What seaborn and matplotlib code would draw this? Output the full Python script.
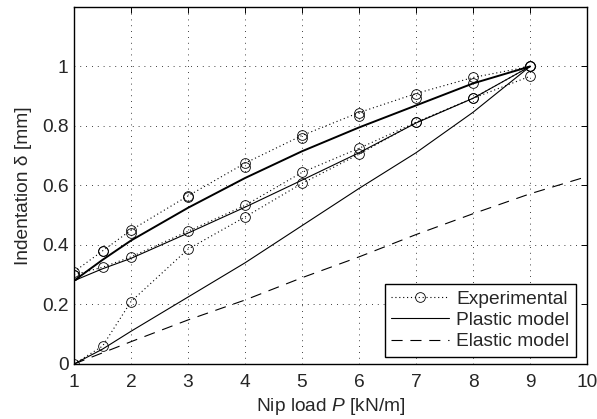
import matplotlib
matplotlib.use("Agg")
import matplotlib.pyplot as plt
import seaborn as sns
import pandas as pd
from matplotlib.lines import Line2D

# ---- data ----
load = [1, 1.5, 2, 3, 4, 5, 6, 7, 8, 9]
exp_1a = [0.31, 0.38, 0.45, 0.565, 0.675, 0.768, 0.845, 0.909, 0.963, 1.0]
exp_1b = [0.30, 0.38, 0.44, 0.56, 0.661, 0.758, 0.835, 0.893, 0.943, 1.0]
exp_2 = [0.30, 0.325, 0.36, 0.446, 0.533, 0.644, 0.725, 0.812, 0.893, 1.0]
exp_3 = [0.0, 0.06, 0.21, 0.386, 0.494, 0.607, 0.705, 0.812, 0.893, 0.967]

plastic_1 = [0.28, 0.35, 0.415, 0.525, 0.625, 0.715, 0.795, 0.869, 0.943, 1.0]
plastic_2 = [0.28, 0.32, 0.355, 0.44, 0.527, 0.618, 0.71, 0.81, 0.893, 1.0]
plastic_3 = [0.0, 0.05, 0.11, 0.225, 0.34, 0.465, 0.59, 0.71, 0.846, 1.0]

elastic_load = [1, 2, 3, 4, 5, 6, 7, 8, 9, 10]
elastic = [0.0, 0.075, 0.148, 0.215, 0.29, 0.36, 0.435, 0.505, 0.572, 0.63]

xticks = [1, 2, 3, 4, 5, 6, 7, 8, 9, 10]
yticks = [0, 0.2, 0.4, 0.6, 0.8, 1.0]
ytick_labels = ["0", "0.2", "0.4", "0.6", "0.8", "1"]

# ---- style ----
sns.set_style("white")
plt.rcParams["font.family"] = ["Liberation Sans", "DejaVu Sans"]
plt.rcParams["mathtext.fontset"] = "custom"
plt.rcParams["mathtext.rm"] = "Liberation Sans"
plt.rcParams["mathtext.it"] = "Liberation Sans:italic"
FS = 13.8

fig = plt.figure(figsize=(5.97, 4.19), dpi=100)
ax = fig.add_axes([0.1240, 0.1313, 0.8593, 0.8521])

ax.set_axisbelow(True)
ax.grid(True, color="black", linestyle=(0, (1, 6)), linewidth=0.6)

thin = 0.8
dotted = (0, (1, 2.5))
dashed = (0, (10, 7))
mk = dict(marker="o", markersize=7, markerfacecolor="none",
          markeredgecolor="black", markeredgewidth=0.6)

def ln(x, y, **kw):
    df = pd.DataFrame({"x": x, "y": y})
    sns.lineplot(data=df, x="x", y="y", ax=ax, sort=False, estimator=None, **kw)

# experimental
ln(load, exp_1a, color="black", linestyle=dotted, linewidth=0.8, **mk)
ln(load, exp_1b, color="black", linestyle="none", **mk)
ln(load, exp_2, color="black", linestyle=dotted, linewidth=0.8, **mk)
ln(load, exp_3, color="black", linestyle=dotted, linewidth=0.8, **mk)

# plastic models
ln(load, plastic_1, color="black", linewidth=1.4)
ln(load, plastic_2, color="black", linewidth=thin)
ln(load, plastic_3, color="black", linewidth=thin)

# elastic model
ln(elastic_load, elastic, color="black", linewidth=thin, linestyle=dashed)

ax.set_xlim(1, 10)
ax.set_ylim(0, 1.2)
ax.set_xticks(xticks)
ax.set_xticklabels([str(t) for t in xticks], fontsize=FS)
ax.set_yticks(yticks)
ax.set_yticklabels(ytick_labels, fontsize=FS)
ax.tick_params(direction="in", top=True, right=True, length=4, width=0.7,
               color="black")
ax.tick_params(axis="x", pad=7.5)
ax.tick_params(axis="y", pad=4)
for s in ax.spines.values():
    s.set_color("black")
    s.set_linewidth(1.0)

ax.set_xlabel(r"Nip load $P$ [kN/m]", fontsize=FS, labelpad=3)
ax.set_ylabel("Indentation δ [mm]", fontsize=FS, labelpad=7)

handles = [
    Line2D([], [], color="black", linestyle=dotted, linewidth=0.8, **mk),
    Line2D([], [], color="black", linewidth=thin),
    Line2D([], [], color="black", linewidth=thin, linestyle=dashed),
]
leg = ax.legend(handles, ["Experimental", "Plastic model", "Elastic model"],
                loc="lower right", bbox_to_anchor=(0.979, 0.0196),
                borderaxespad=0, fontsize=FS, frameon=True, fancybox=False,
                handlelength=3.0, handletextpad=0.4, labelspacing=0.2,
                borderpad=0.35)
leg.get_frame().set_edgecolor("black")
leg.get_frame().set_linewidth(1.0)
leg.get_frame().set_alpha(1)

fig.savefig("out.png", dpi=100)
